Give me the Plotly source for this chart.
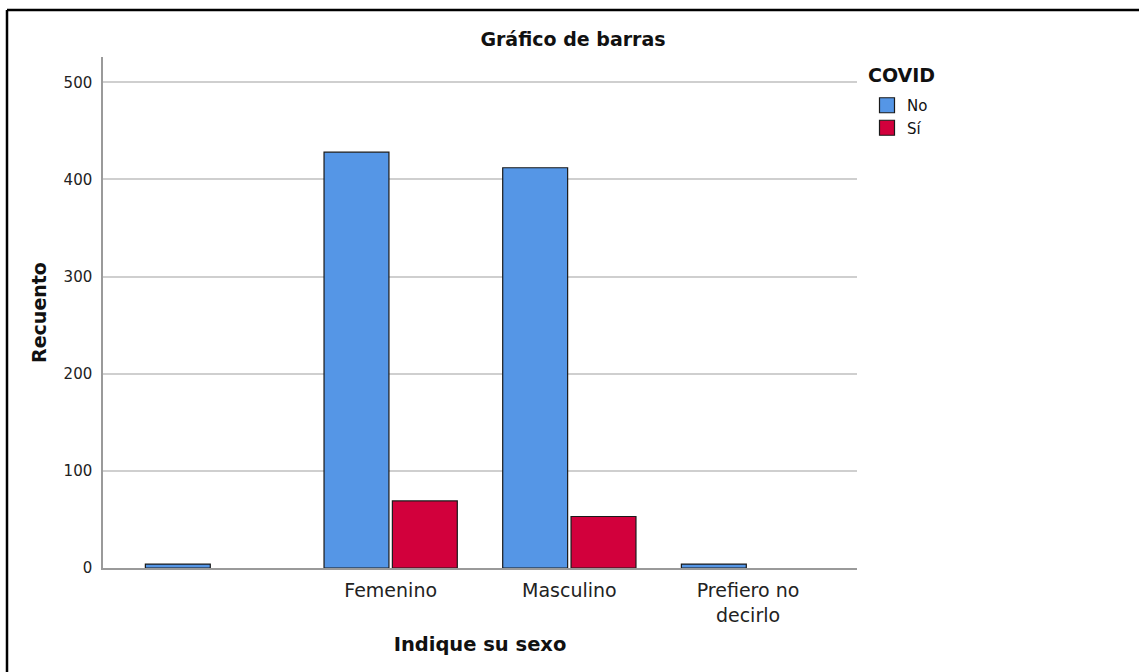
import plotly.graph_objects as go

categorias = [" ", "Femenino", "Masculino", "Prefiero no<br>decirlo"]
covid_no = [4, 428, 412, 4]
covid_si = [None, 69, 53, None]
series = ["No", "Sí"]
colores = ["#5596E6", "#D2003C"]

W, H = 1139, 672
L, R, T, B = 103, 857, 57, 568  # plot area in pixels

font = "DejaVu Sans"

fig = go.Figure()
for nombre, valores, color in zip(series, [covid_no, covid_si], colores):
    fig.add_trace(go.Bar(x=categorias, y=valores, name=nombre, showlegend=False,
                         marker=dict(color=color, line=dict(color="#1a1a1a", width=1.2))))
    # legend key only (square swatch like the SPSS legend)
    fig.add_trace(go.Scatter(x=[None], y=[None], name=nombre, mode="markers",
                             marker=dict(symbol="square", size=15, color=color,
                                         line=dict(color="#1a1a1a", width=1.2))))


def px_x(p):
    return (p - L) / (R - L)


def px_y(p):
    return (B - p) / (B - T)


fig.update_layout(
    width=W, height=H,
    margin=dict(l=L, r=W - R, t=T, b=H - B, pad=0),
    paper_bgcolor="white", plot_bgcolor="white",
    barmode="group", bargap=0.235, bargroupgap=0.05,
    font=dict(family=font, color="#222"),
    title=dict(text="<b>Gráfico de barras</b>", x=573 / W, xanchor="center",
               y=1 - 39 / H, yanchor="middle", font=dict(size=19, family=font, color="#111")),
    legend=dict(
        x=px_x(867), xanchor="left", y=px_y(89), yanchor="top",
        font=dict(size=15, color="#111"), itemwidth=30, tracegroupgap=0,
        itemsizing="trace", bgcolor="rgba(0,0,0,0)",
    ),
    xaxis=dict(
        range=[-0.61, 3.61], showline=True, linecolor="#9a9a9a", linewidth=2,
        ticks="", showgrid=False, tickfont=dict(size=19, color="#222"),
        ticklabelstandoff=4,
        categoryorder="array", categoryarray=categorias,
        title=dict(text="<b>Indique su sexo</b>", font=dict(size=19.5, color="#111"), standoff=13),
    ),
    yaxis=dict(
        range=[0, 526], showline=True, linecolor="#9a9a9a", linewidth=1.5,
        ticks="", showgrid=True, gridcolor="#cfcfcf", gridwidth=1.5,
        tickvals=[0, 100, 200, 300, 400, 500], tickfont=dict(size=15, color="#222"),
        ticklabelstandoff=6, zeroline=False,
        title=dict(text="<b>Recuento</b>", font=dict(size=19, color="#111"), standoff=12),
    ),
)

# legend title, placed on its own like SPSS does
fig.add_annotation(text="<b>COVID</b>", xref="paper", yref="paper",
                   x=px_x(866), y=px_y(75), xanchor="left", yanchor="middle",
                   showarrow=False, font=dict(size=19, color="#111"))

# black frame around the picture (cut at right and bottom)
fig.add_shape(type="line", xref="paper", yref="paper",
              x0=px_x(7), x1=px_x(W + 5), y0=px_y(10), y1=px_y(10),
              line=dict(color="black", width=2.5))
fig.add_shape(type="line", xref="paper", yref="paper",
              x0=px_x(7), x1=px_x(7), y0=px_y(10), y1=px_y(H + 5),
              line=dict(color="black", width=2.5))

fig.write_html("out.html", config={"displayModeBar": False},
               post_script="document.body.style.margin='0';")
